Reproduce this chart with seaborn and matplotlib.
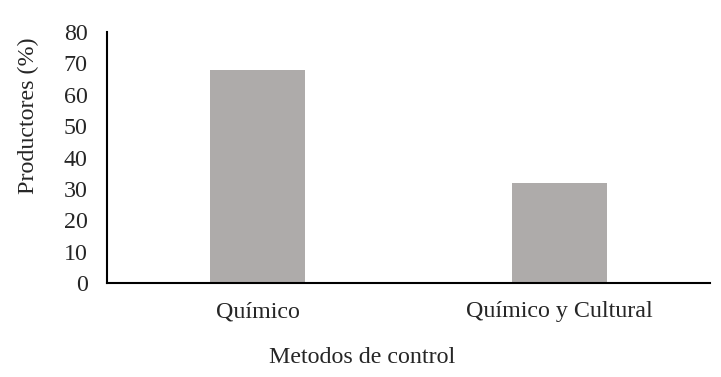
import pandas as pd
import seaborn as sns
import matplotlib.pyplot as plt

# Datos
metodos = ['Químico', 'Químico y Cultural']
productores = [68, 32]

df = pd.DataFrame({'metodo': metodos, 'productores': productores})

sns.set_style('white')
plt.rcParams['font.family'] = ['Liberation Serif', 'DejaVu Serif']

fig = plt.figure(figsize=(7.21, 3.77), dpi=100)
ax = fig.add_axes([0.1484, 0.2493, 0.8363, 0.6657])

sns.barplot(x='metodo', y='productores', data=df, color='#AEABAA',
            width=0.315, saturation=1, linewidth=0, ax=ax)

ax.set_ylim(0, 80)
ax.set_yticks(range(0, 81, 10))
ax.set_xlim(-0.5, 1.5)

for s in ['top', 'right']:
    ax.spines[s].set_visible(False)
for s in ['left', 'bottom']:
    ax.spines[s].set_color('black')
    ax.spines[s].set_linewidth(1.5)

ax.tick_params(axis='y', length=0, pad=14, labelsize=17.3)
ax.tick_params(axis='x', length=0, pad=13, labelsize=17.3)

ax.set_xlabel('Metodos de control', fontsize=17.3, labelpad=18)
ax.set_ylabel('Productores (%)', fontsize=17.3, labelpad=18)
# etiquetas desplazadas como en el original
ax.xaxis.label.set_x(0.423)
ax.yaxis.label.set_y(0.665)

fig.savefig('out.png', dpi=100)
